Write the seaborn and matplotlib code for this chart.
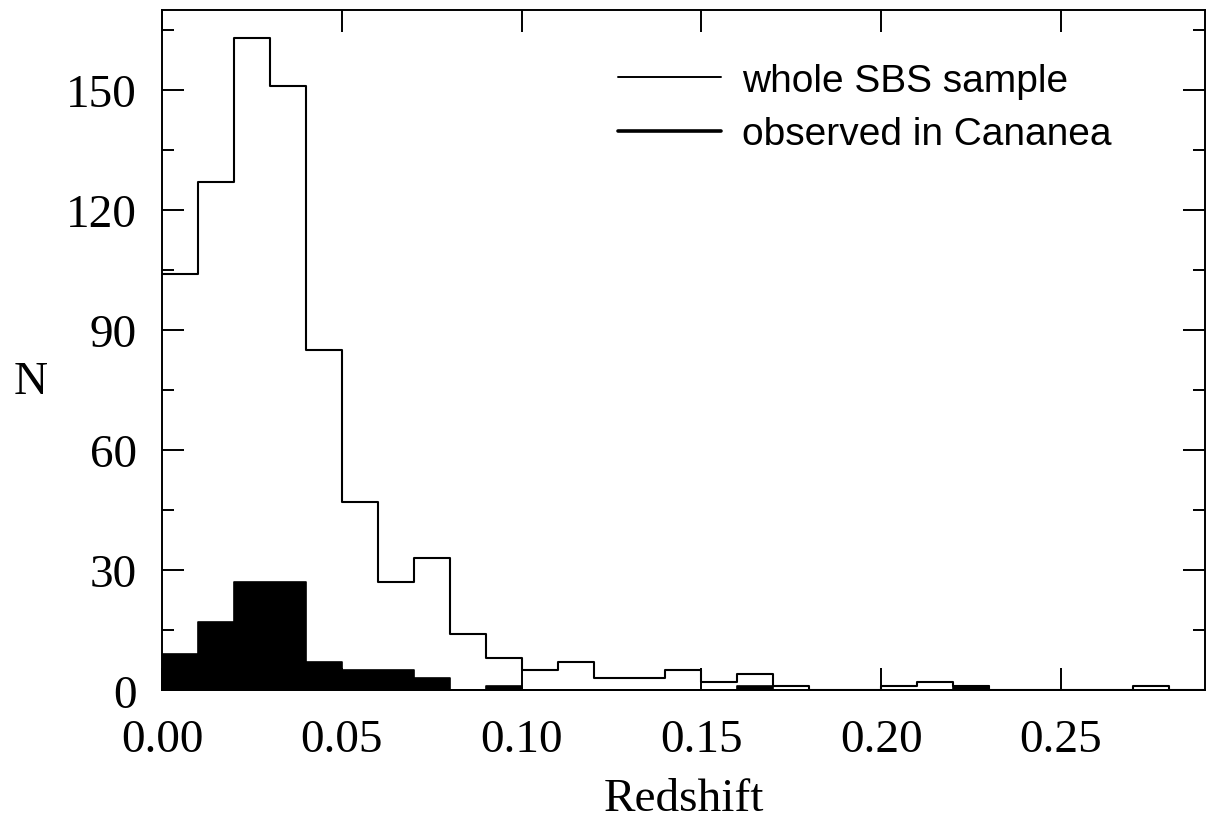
import numpy as np
import pandas as pd
import matplotlib
matplotlib.use("Agg")
import matplotlib.pyplot as plt
from matplotlib.lines import Line2D
from matplotlib.ticker import MultipleLocator, FormatStrFormatter
import seaborn as sns

# bin edges (redshift), 0.01 wide
bin_edges = [0.00, 0.01, 0.02, 0.03, 0.04, 0.05, 0.06, 0.07, 0.08, 0.09,
             0.10, 0.11, 0.12, 0.13, 0.14, 0.15, 0.16, 0.17, 0.18, 0.19,
             0.20, 0.21, 0.22, 0.23, 0.24, 0.25, 0.26, 0.27, 0.28, 0.29]

# counts per bin
whole_counts = [104, 127, 163, 151, 85, 47, 27, 33, 14, 8,
                5, 7, 3, 3, 5, 2, 4, 1, 0, 0,
                1, 2, 1, 0, 0, 0, 0, 1, 0]
cananea_counts = [9, 17, 27, 27, 7, 5, 5, 3, 0, 1,
                  0, 0, 0, 0, 0, 0, 1, 0, 0, 0,
                  0, 0, 1, 0, 0, 0, 0, 0, 0]

centers = [(a + b) / 2 for a, b in zip(bin_edges[:-1], bin_edges[1:])]
df = pd.DataFrame({"z": centers, "whole": whole_counts, "cananea": cananea_counts})

sns.set_style("ticks")
plt.rcParams["font.family"] = ["Liberation Serif", "DejaVu Serif"]
plt.rcParams["text.color"] = "black"
plt.rcParams["axes.labelcolor"] = "black"

fig = plt.figure(figsize=(12.07, 8.2), dpi=100)
ax = fig.add_axes([0.1342, 0.157, 0.8641, 0.8296])

sns.histplot(data=df, x="z", weights="cananea", bins=bin_edges, element="step",
             fill=True, color="black", edgecolor="black", alpha=1, linewidth=1.2, ax=ax)
sns.histplot(data=df, x="z", weights="whole", bins=bin_edges, element="step",
             fill=False, color="black", linewidth=1.5, ax=ax)

ax.set_xlim(0, 0.29)
ax.set_ylim(0, 170)
ax.xaxis.set_major_locator(MultipleLocator(0.05))
ax.yaxis.set_major_locator(MultipleLocator(30))
ax.yaxis.set_minor_locator(MultipleLocator(15))
ax.xaxis.set_major_formatter(FormatStrFormatter("%.2f"))

ax.tick_params(which="both", direction="in", top=True, right=True, width=1.4,
               colors="black", labelcolor="black", labelsize=34)
ax.tick_params(which="major", length=16)
ax.tick_params(which="minor", length=8.5)
ax.tick_params(axis="x", pad=20)
ax.tick_params(axis="y", pad=18)
for s in ax.spines.values():
    s.set_linewidth(1.4)
    s.set_color("black")

ax.set_xlabel("Redshift", fontsize=34)
ax.xaxis.set_label_coords(0.5, -0.128)
ax.set_ylabel("N", fontsize=34, rotation=0, ha="center", va="center")
ax.yaxis.set_label_coords(-0.126, 0.454)

handles = [Line2D([], [], color="black", lw=1.4),
           Line2D([], [], color="black", lw=2.6)]
ax.legend(handles, ["whole SBS sample", "observed in Cananea"],
          loc="upper left", bbox_to_anchor=(0.437, 0.922), frameon=False,
          prop={"family": ["Liberation Sans", "DejaVu Sans"], "size": 28},
          labelcolor="black",
          handlelength=2.65, handletextpad=0.55, labelspacing=0.44,
          borderpad=0, borderaxespad=0)

fig.savefig("out.png", dpi=100)
